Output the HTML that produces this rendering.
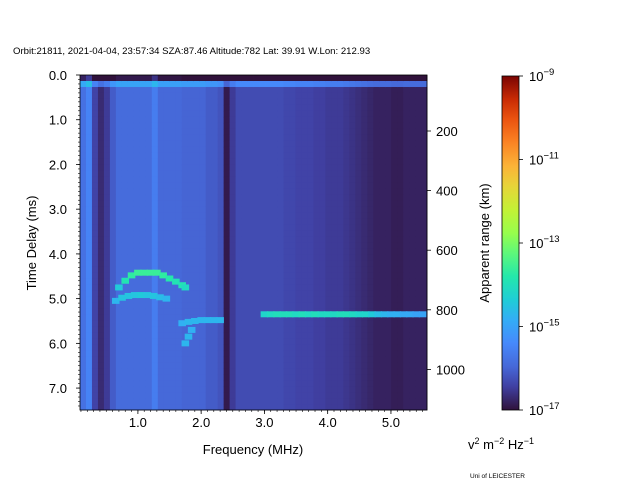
<!DOCTYPE html>
<html><head><meta charset="utf-8"><style>
body{margin:0;background:#fff;}
svg{display:block;font-family:"Liberation Sans","DejaVu Sans",sans-serif;}
</style></head><body>
<svg id="chart" width="640" height="480" viewBox="0 0 640 480">
<text x="13" y="54" font-size="9.6" fill="#000">Orbit:21811, 2021-04-04, 23:57:34 SZA:87.46 Altitude:782 Lat: 39.91 W.Lon: 212.93</text>
<g id="cells"></g>
<g id="axes"></g>
<defs><linearGradient id="turbo" x1="0" y1="1" x2="0" y2="0"></linearGradient></defs>
<rect x="502" y="76" width="17" height="334" fill="url(#turbo)" stroke="#000" stroke-width="0.8"/>
<text x="253" y="454" font-size="13" text-anchor="middle">Frequency (MHz)</text>
<text transform="translate(36,243) rotate(-90)" font-size="13" text-anchor="middle">Time Delay (ms)</text>
<text transform="translate(489,243) rotate(-90)" font-size="13" text-anchor="middle">Apparent range (km)</text>
<text x="468" y="449" font-size="13">v<tspan dy="-5" font-size="9">2</tspan><tspan dy="5"> m</tspan><tspan dy="-5" font-size="9">−2</tspan><tspan dy="5"> Hz</tspan><tspan dy="-5" font-size="9">−1</tspan></text>
<text x="470" y="478" font-size="6.5">Uni of LEICESTER</text>
</svg>
<script>
// ---- data ----
const colFreqStart = 0.085, colFreqStep = 0.0946;
const colBase = [-15.8,-15.5,-16.4,-16.7,-16.5,-16.1,-15.9,-15.9,-15.9,-15.9,-15.9,-15.9,-15.6,-15.95,-15.95,-15.95,-15.95,-16.0,-16.0,-16.0,-16.0,-16.1,-16.1,-16.2,-16.9,-16.5,-16.3,-16.3,-16.3,-16.3,-16.3,-16.3,-16.3,-16.3,-16.35,-16.35,-16.4,-16.4,-16.4,-16.45,-16.45,-16.5,-16.5,-16.5,-16.55,-16.6,-16.65,-16.7,-16.75,-16.8,-16.8,-16.8,-16.85,-16.85,-16.8,-16.8,-16.8,-16.8];
const rowDelayStep = 0.134;
const rowAdj = [-1.0, 0.9];       // first two rows: dark top strip, bright band
const traceFreq  = [0.7,0.8,0.9,1.0,1.1,1.2,1.3,1.4,1.5,1.6,1.7,1.75, 0.65,0.75,0.85,0.95,1.05,1.15,1.25,1.35,1.45, 1.7,1.8,1.9,2.0,2.1,2.2,2.3, 1.75,1.8,1.85, 3.0,3.1,3.2,3.3,3.4,3.5,3.6,3.7,3.8,3.9,4.0,4.1,4.2,4.3,4.4,4.5,4.6,4.7,4.8,4.9,5.0,5.1,5.2,5.3,5.4,5.5];
const traceDelay = [4.75,4.6,4.48,4.42,4.42,4.42,4.42,4.48,4.55,4.62,4.7,4.75, 5.05,4.98,4.94,4.92,4.92,4.92,4.94,4.97,5.0, 5.55,5.52,5.5,5.48,5.48,5.48,5.48, 6.0,5.85,5.7, 5.35,5.35,5.35,5.35,5.35,5.35,5.35,5.35,5.35,5.35,5.35,5.35,5.35,5.35,5.35,5.35,5.35,5.35,5.35,5.35,5.35,5.35,5.35,5.35,5.35,5.35];
const traceVal   = [-14.4,-13.9,-13.7,-13.6,-13.6,-13.6,-13.6,-13.7,-13.8,-13.9,-13.9,-14.1, -14.7,-14.5,-14.5,-14.5,-14.4,-14.5,-14.5,-14.6,-14.7, -14.8,-14.7,-14.7,-14.7,-14.7,-14.7,-14.7, -14.7,-14.7,-14.8, -14.2,-14.1,-14.0,-14.0,-14.0,-14.1,-14.0,-14.1,-14.0,-14.1,-14.1,-14.1,-14.0,-14.0,-14.1,-14.2,-14.2,-14.4,-14.6,-14.7,-14.8,-14.8,-14.9,-14.9,-15.0,-15.0];
const xTicks = [1.0,2.0,3.0,4.0,5.0];
const yTicks = [0,1,2,3,4,5,6,7];
const rTicks = [200,400,600,800,1000];
const cbTicks = [-9,-11,-13,-15,-17];

// ---- scales ----
const PL=80, PR=427, PT=75, PB=410;
const fMin=0.085, fMax=5.57, dMax=7.49;
const xS = f => PL + (f-fMin)/(fMax-fMin)*(PR-PL);
const yS = d => PT + d/dMax*(PB-PT);
const rS = km => 131 + (km-200)*0.298;
const cS = e => 410 - (e+17)/8*334;
const stops=[[0,'#30123b'],[0.07,'#4040a2'],[0.13,'#4668d8'],[0.2,'#4689fb'],[0.27,'#33adf6'],[0.33,'#1fcdd6'],[0.4,'#24e8ab'],[0.47,'#5ef87a'],[0.53,'#97fe4c'],[0.6,'#c4f135'],[0.67,'#e7d439'],[0.73,'#fbb338'],[0.8,'#fb8424'],[0.87,'#eb5410'],[0.93,'#c92b04'],[1,'#7a0403']];
function hex(h){return [1,3,5].map(i=>parseInt(h.substr(i,2),16));}
function cmap(e){let t=Math.max(0,Math.min(1,(e+17)/8));for(let i=1;i<stops.length;i++){if(t<=stops[i][0]){const a=stops[i-1],b=stops[i];const u=(t-a[0])/(b[0]-a[0]);const A=hex(a[1]),B=hex(b[1]);return 'rgb('+A.map((v,k)=>Math.round(v+(B[k]-v)*u)).join(',')+')';}}return stops[stops.length-1][1];}
const NS='http://www.w3.org/2000/svg';
function mk(tag,attrs,parent){const el=document.createElementNS(NS,tag);for(const k in attrs)el.setAttribute(k,attrs[k]);parent.appendChild(el);return el;}

const grad=document.getElementById('turbo');
stops.forEach(s=>mk('stop',{offset:s[0],'stop-color':s[1]},grad));

// ---- heatmap ----
const cells=document.getElementById('cells');
const nRows=Math.ceil(dMax/rowDelayStep);
for(let c=0;c<colBase.length;c++){
  const f0=colFreqStart+c*colFreqStep, f1=Math.min(fMax,f0+colFreqStep);
  for(let r=0;r<nRows;r++){
    const d0=r*rowDelayStep, d1=Math.min(dMax,d0+rowDelayStep);
    const v=colBase[c]+(r<rowAdj.length?rowAdj[r]:0);
    const el=mk('rect',{x:xS(f0),y:yS(d0),width:xS(f1)-xS(f0)+0.4,height:yS(d1)-yS(d0)+0.4,fill:cmap(v)},cells);
    
    
  }
}
for(let i=0;i<traceFreq.length;i++){
  const f=traceFreq[i], d=traceDelay[i];
  const el=mk('rect',{x:xS(f-0.06),y:yS(d-0.067),width:xS(f+0.06)-xS(f-0.06),height:yS(0.134)-yS(0),fill:cmap(traceVal[i])},cells);
  
  
}

// ---- axes ----
const ax=document.getElementById('axes');
const frame=mk('rect',{x:PL,y:PT,width:PR-PL,height:PB-PT,fill:'none',stroke:'#000','stroke-width':0.8},ax);


for(let f=0.1;f<fMax;f+=0.1){const x=xS(f);mk('line',{x1:x,x2:x,y1:PB,y2:PB+2,stroke:'#000','stroke-width':0.6},ax);}
xTicks.forEach(f=>{const x=xS(f);mk('line',{x1:x,x2:x,y1:PB,y2:PB+4,stroke:'#000','stroke-width':0.8},ax);
  const t=mk('text',{x:x,y:PB+17,'font-size':13,'text-anchor':'middle'},ax);t.textContent=f.toFixed(1);
  
  });
for(let d=0.1;d<dMax;d+=0.1){const y=yS(d);mk('line',{x1:PL,x2:PL-2,y1:y,y2:y,stroke:'#000','stroke-width':0.6},ax);}
yTicks.forEach(d=>{const y=yS(d);mk('line',{x1:PL,x2:PL-4,y1:y,y2:y,stroke:'#000','stroke-width':0.8},ax);
  const t=mk('text',{x:PL-13,y:y+5,'font-size':13,'text-anchor':'end'},ax);t.textContent=d.toFixed(1);
  
  });
rTicks.forEach(k=>{const y=rS(k);mk('line',{x1:PR,x2:PR+4,y1:y,y2:y,stroke:'#000','stroke-width':0.8},ax);
  const t=mk('text',{x:PR+9,y:y+5,'font-size':13},ax);t.textContent=k;
  
  });
cbTicks.forEach(e=>{const y=cS(e);mk('line',{x1:519,x2:523,y1:y,y2:y,stroke:'#000','stroke-width':0.8},ax);
  const t=mk('text',{x:529,y:y+5,'font-size':13},ax);t.innerHTML='10<tspan dy="-6" font-size="9.5">−'+(-e)+'</tspan>';
  
  });
</script>
</body></html>
